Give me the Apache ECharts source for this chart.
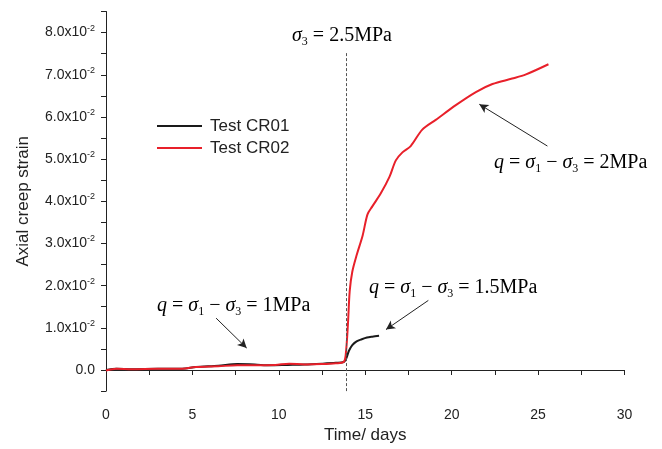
<!DOCTYPE html>
<html>
<head>
<meta charset="utf-8">
<script src="https://cdn.jsdelivr.net/npm/echarts@6/dist/echarts.min.js"></script>
<style>
html,body{margin:0;padding:0;background:#fff;}
#chart{width:662px;height:449px;}
</style>
</head>
<body>
<div id="chart"></div>
<script>
// ---- data ----
var cr01Days = [0, 0.6, 1.5, 3, 4.4, 5.2, 6.5, 7.6, 8.6, 9.5, 10.5, 11.5, 12.5, 13.3, 13.75, 13.9, 14.05, 14.25, 14.5, 14.8, 15.1, 15.4, 15.8];
var cr01Strain = [0, 0.0003, 0.0002, 0.0003, 0.0003, 0.0007, 0.0010, 0.0014, 0.0013, 0.0011, 0.0012, 0.0013, 0.0015, 0.0017, 0.0019, 0.0027, 0.0045, 0.0059, 0.0068, 0.0073, 0.0077, 0.0079, 0.0081];

var cr02Days = [0, 0.6, 1.5, 3, 4.4, 5.2, 6.5, 7.6, 8.8, 9.8, 10.6, 11.5, 12.5, 13.3, 13.75, 13.87, 14.0, 14.1, 14.25, 14.5, 14.85, 15.13, 15.41, 15.9, 16.4, 16.77, 17.15, 17.63, 18.3, 19.08, 20.24, 21.4, 22.36, 23.5, 24.3, 25.6];
var cr02Strain = [-0.0001, 0.0003, 0.0002, 0.0003, 0.0003, 0.0007, 0.0009, 0.0011, 0.0011, 0.0012, 0.0015, 0.0013, 0.0014, 0.0016, 0.0019, 0.0036, 0.0110, 0.0187, 0.0233, 0.0272, 0.0319, 0.0369, 0.0388, 0.0419, 0.0458, 0.0497, 0.0516, 0.0531, 0.0570, 0.0593, 0.0628, 0.0659, 0.0678, 0.0691, 0.0701, 0.0725];

var seriesNames = ['Test CR01', 'Test CR02'];
var confiningDay = 13.9;          // sigma3 change (dashed line)
var xTickLabels = [0, 5, 10, 15, 20, 25, 30];

// arrows: [fromDay, fromStrain, toDay, toStrain]
var arrow1MPa = [6.37, 0.0123, 8.14, 0.0052];
var arrow15MPa = [18.65, 0.0165, 16.2, 0.0096];
var arrow2MPa = [25.54, 0.0531, 21.6, 0.0630];

function pairs(xs, ys) { return xs.map(function (x, i) { return [x, ys[i]]; }); }
function arrowItem(a) {
  return [{ coord: [a[0], a[1]], symbol: 'none' }, { coord: [a[2], a[3]], symbol: 'arrow' }];
}

var serif = '"Liberation Serif","Times New Roman",serif';
var sans = '"Liberation Sans",Arial,Helvetica,sans-serif';
var richQ = {
  n: { fontFamily: serif, fontSize: 20, color: '#222', lineHeight: 24, verticalAlign: 'middle' },
  i: { fontFamily: serif, fontSize: 20, fontStyle: 'italic', color: '#222', lineHeight: 24, verticalAlign: 'middle' },
  s: { fontFamily: serif, fontSize: 12, color: '#222', lineHeight: 12, verticalAlign: 'bottom' }
};

var chart = echarts.init(document.getElementById('chart'), null, { renderer: 'canvas' });
chart.setOption({
  animation: false,
  backgroundColor: '#fff',
  grid: { left: 106, right: 37.5, top: 11.5, bottom: 50, containLabel: false },
  legend: {
    left: 152, top: 112, orient: 'vertical',
    itemWidth: 45, itemHeight: 2, itemGap: 4, icon: 'rect',
    textStyle: { fontFamily: sans, fontSize: 17, color: '#222', lineHeight: 18, padding: [0, 0, 0, 3] },
    data: seriesNames
  },
  xAxis: {
    type: 'value', min: 0, max: 30, interval: 2.5,
    name: 'Time/ days', nameLocation: 'middle', nameGap: 33,
    nameTextStyle: { fontFamily: sans, fontSize: 17, color: '#222' },
    axisLine: { lineStyle: { color: '#222', width: 1 } },
    axisTick: { length: 5, lineStyle: { color: '#222' } },
    axisLabel: {
      fontFamily: sans, fontSize: 14, color: '#222', margin: 17,
      formatter: function (v) { return xTickLabels.indexOf(Math.round(v * 10) / 10) >= 0 ? String(v) : ''; }
    },
    splitLine: { show: false }
  },
  yAxis: {
    type: 'value', min: -0.005, max: 0.085, interval: 0.005,
    name: 'Axial creep strain', nameLocation: 'middle', nameGap: 74,
    nameTextStyle: { fontFamily: sans, fontSize: 17, color: '#222' },
    axisLine: { lineStyle: { color: '#222', width: 1 } },
    axisTick: { length: 5, lineStyle: { color: '#222' } },
    axisLabel: {
      fontFamily: sans, fontSize: 14, color: '#222', margin: 11,
      formatter: function (v) {
        var k = Math.round(v * 1000);
        if (k % 10 !== 0 || k < 0) return '';
        if (k === 0) return '{a|0.0}';
        return '{a|' + (k / 10).toFixed(1) + 'x10}{sup|-2}';
      },
      rich: {
        a: { fontFamily: sans, fontSize: 14, color: '#222', lineHeight: 18, verticalAlign: 'middle' },
        sup: { fontFamily: sans, fontSize: 9, color: '#222', lineHeight: 9, verticalAlign: 'top' }
      }
    },
    splitLine: { show: false }
  },
  series: [
    {
      name: seriesNames[0], type: 'line', data: pairs(cr01Days, cr01Strain),
      showSymbol: false, smooth: 0.3, color: '#1a1a1a',
      lineStyle: { color: '#1a1a1a', width: 2 },
      markLine: {
        silent: true, animation: false, symbolSize: [7, 9],
        label: { show: false },
        lineStyle: { color: '#222', width: 1, type: 'solid' },
        data: [
          [{ coord: [confiningDay, -0.005], symbol: 'none', lineStyle: { color: '#555', width: 1, type: [3, 2] } },
           { coord: [confiningDay, 0.0755], symbol: 'none' }],
          arrowItem(arrow1MPa), arrowItem(arrow15MPa), arrowItem(arrow2MPa)
        ]
      }
    },
    {
      name: seriesNames[1], type: 'line', data: pairs(cr02Days, cr02Strain),
      showSymbol: false, smooth: 0.3, color: '#e8202a',
      lineStyle: { color: '#e8202a', width: 2 }
    }
  ],
  graphic: [
    { type: 'text', left: 292, top: 26, silent: true,
      style: { text: '{i|σ}{s|3}{n| = 2.5MPa}', rich: richQ } },
    { type: 'text', left: 157, top: 296, silent: true,
      style: { text: '{i|q}{n| = }{i|σ}{s|1}{n| − }{i|σ}{s|3}{n| = 1MPa}', rich: richQ } },
    { type: 'text', left: 369, top: 278, silent: true,
      style: { text: '{i|q}{n| = }{i|σ}{s|1}{n| − }{i|σ}{s|3}{n| = 1.5MPa}', rich: richQ } },
    { type: 'text', left: 494, top: 153, silent: true,
      style: { text: '{i|q}{n| = }{i|σ}{s|1}{n| − }{i|σ}{s|3}{n| = 2MPa}', rich: richQ } }
  ]
});
</script>
</body>
</html>
